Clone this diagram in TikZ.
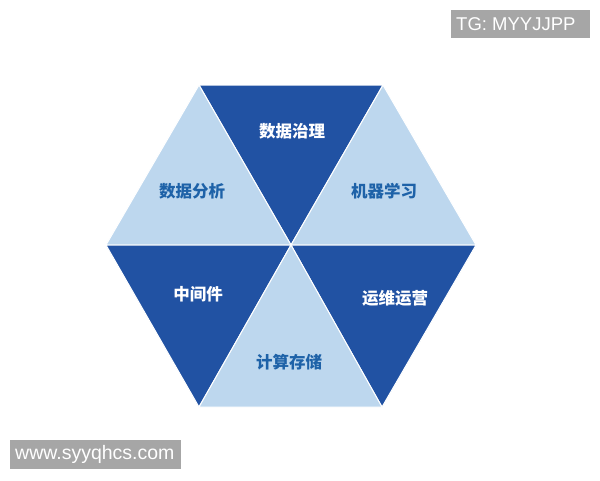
\documentclass[tikz,border=0pt]{standalone}
\usepackage{fontspec}
\setmainfont{Liberation Sans}
\newfontfamily\cjk{Noto Sans CJK SC}
\definecolor{darkblue}{RGB}{33,82,163}
\definecolor{lightblue}{RGB}{189,215,238}
\definecolor{labelblue}{RGB}{30,98,168}
\definecolor{wmgrey}{RGB}{166,166,166}
\tikzset{
  darktri/.style={fill=darkblue,draw=white,line width=1pt,line join=miter},
  lighttri/.style={fill=lightblue,draw=white,line width=1pt,line join=miter},
  darklabel/.style={text=white,font=\cjk\bfseries\fontsize{16.5}{18}\selectfont},
  lightlabel/.style={text=labelblue,font=\cjk\bfseries\fontsize{16.5}{18}\selectfont},
  wmtext/.style={text=white,inner sep=0pt,anchor=west}
}
\begin{document}
\begin{tikzpicture}[x=1pt,y=-1pt]
\useasboundingbox (0,0) rectangle (600,480);
\fill[white] (0,0) rectangle (600,480);
\coordinate (TL) at (199,85);
\coordinate (TR) at (383,85);
\coordinate (L) at (106,245);
\coordinate (R) at (476,245);
\coordinate (BL) at (199,407);
\coordinate (BR) at (382,407);
\coordinate (C) at (291,245);
\draw[darktri] (TL) -- (TR) -- (C) -- cycle;
\draw[lighttri] (L) -- (TL) -- (C) -- cycle;
\draw[lighttri] (TR) -- (R) -- (C) -- cycle;
\draw[darktri] (L) -- (C) -- (BL) -- cycle;
\draw[darktri] (C) -- (R) -- (BR) -- cycle;
\draw[lighttri] (BL) -- (BR) -- (C) -- cycle;
\node[darklabel] (top) at (292,131) {数据治理};
\node[lightlabel] (ul) at (192,191) {数据分析};
\node[lightlabel] (ur) at (384,191) {机器学习};
\node[darklabel] (ll) at (198,294) {中间件};
\node[darklabel] (lr) at (395,298) {运维运营};
\node[lightlabel] (bot) at (289,362) {计算存储};
\fill[wmgrey] (451,10) rectangle (590,38);
\node[wmtext,font=\fontsize{18.5}{20}\selectfont] (wm1) at (456,24) {TG: MYYJJPP};
\fill[wmgrey] (10,440) rectangle (181,469);
\node[wmtext,font=\fontsize{19.5}{21}\selectfont] (wm2) at (15,454) {www.syyqhcs.com};
\end{tikzpicture}
\end{document}
